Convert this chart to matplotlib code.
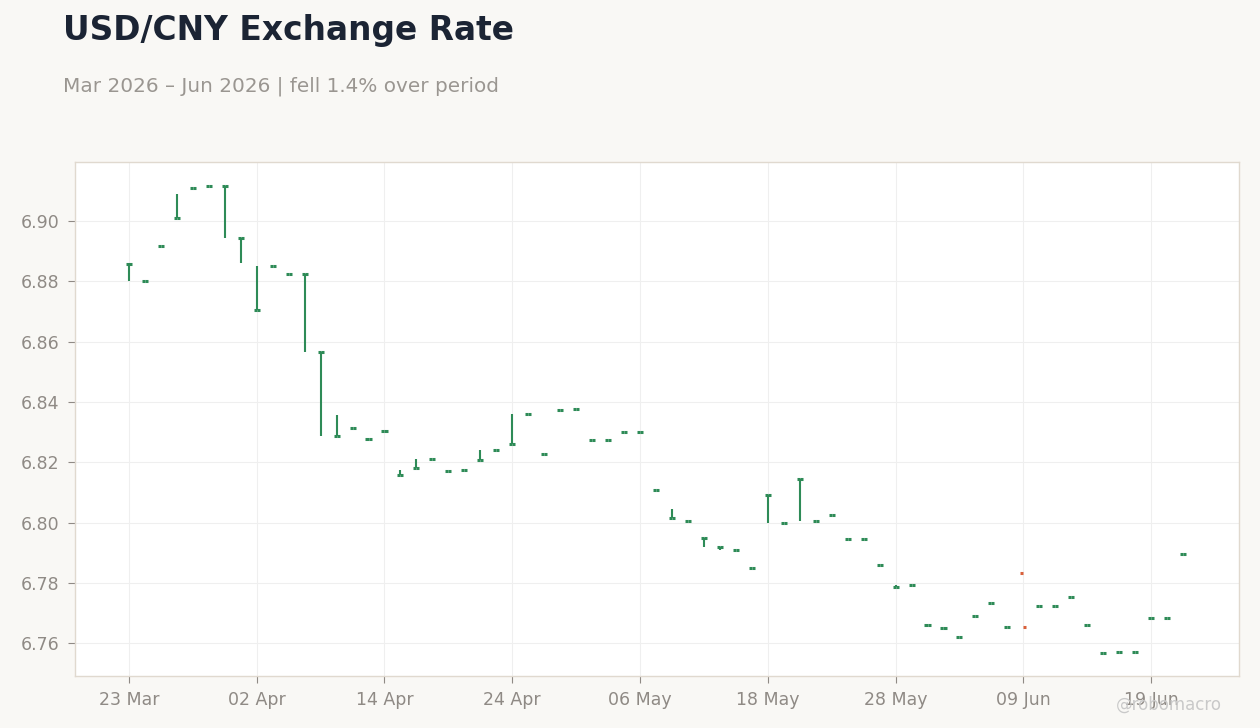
import numpy as np
import pandas as pd
import matplotlib
matplotlib.use("Agg")
import matplotlib.pyplot as plt

# data: business days
dates = pd.bdate_range("2026-03-23", periods=67)

close = np.array([
    6.8857, 6.8801, 6.8917, 6.9010, 6.9109, 6.9117, 6.9117, 6.8945, 6.8705, 6.8851,
    6.8824, 6.8824, 6.8566, 6.8287, 6.8314, 6.8278, 6.8304, 6.8157, 6.8181, 6.8212,
    6.8172, 6.8175, 6.8208, 6.8241, 6.8261, 6.8361, 6.8228, 6.8374, 6.8377, 6.8274,
    6.8274, 6.8301, 6.8301, 6.8109, 6.8015, 6.8006, 6.7949, 6.7920, 6.7910, 6.7850,
    6.8092, 6.8000, 6.8145, 6.8006, 6.8026, 6.7946, 6.7946, 6.7860, 6.7787, 6.7793,
    6.7660, 6.7651, 6.7621, 6.7691, 6.7734, 6.7654, 6.7654, 6.7724, 6.7724, 6.7754,
    6.7661, 6.7568, 6.7571, 6.7571, 6.7684, 6.7684, 6.7896,
])
open_ = close.copy()
open_[56] = 6.7833

high = close.copy()
low = close.copy()
# days with a visible high-low range
ranges = {
    0: (6.8860, 6.8802), 3: (6.9090, 6.9010), 6: (6.9117, 6.8945),
    7: (6.8945, 6.8862), 8: (6.8851, 6.8705), 11: (6.8824, 6.8566),
    12: (6.8566, 6.8288), 13: (6.8356, 6.8287), 17: (6.8174, 6.8157),
    18: (6.8210, 6.8181), 22: (6.8240, 6.8208), 24: (6.8360, 6.8261),
    34: (6.8045, 6.8015), 36: (6.7949, 6.7920), 37: (6.7920, 6.7910),
    40: (6.8092, 6.8000), 42: (6.8145, 6.8006), 48: (6.7792, 6.7787),
    56: (np.nan, np.nan),
}
for k, (h, l) in ranges.items():
    high[k] = h
    low[k] = l

up_color = "#2e8b57"
down_color = "#d9603b"
bg = "#f9f8f5"

fig = plt.figure(figsize=(12.6, 7.28), dpi=100, facecolor=bg)
ax = fig.add_axes([0.0595, 0.0714, 0.9238, 0.7061])
ax.set_facecolor("white")

x = np.arange(len(dates))
up = close >= open_
colors = np.where(up, up_color, down_color)
tw = 0.19

ok = ~np.isnan(high)
ax.vlines(x[ok], low[ok], high[ok], colors=colors[ok], lw=1.5, zorder=3)
ax.hlines(open_, x - tw, x, colors=colors, lw=2.2, capstyle="butt", zorder=4)
ax.hlines(close, x, x + tw, colors=colors, lw=2.2, capstyle="butt", zorder=4)

ax.set_xlim(-3.38, 69.5)
ax.set_ylim(6.7491, 6.9196)
ticks = x[::8]
ax.set_xticks(ticks)
ax.set_xticklabels([d.strftime("%d %b") for d in dates[ticks]])
ax.set_yticks(np.arange(6.76, 6.901, 0.02))
ax.yaxis.set_major_formatter(matplotlib.ticker.FormatStrFormatter("%.2f"))

ax.grid(True, color="#efefef", lw=0.8, zorder=0)
ax.set_axisbelow(True)
for s in ax.spines.values():
    s.set_color("#e0d9cf")
    s.set_linewidth(1.0)
ax.tick_params(axis="both", colors="#8f8a85", labelcolor="#8f8a85",
               labelsize=12.5, length=5, width=0.8, pad=6)

fig.text(0.05, 0.945, "USD/CNY Exchange Rate", fontsize=23.7, fontweight="bold",
         color="#1b2434", va="baseline")
fig.text(0.05, 0.874, "Mar 2026 – Jun 2026 | fell 1.4% over period", fontsize=14.4,
         color="#9a9691", va="baseline")
fig.text(0.97, 0.0316, "@robomacro", fontsize=12, color="#c9c9c9",
         ha="right", va="center")

plt.savefig("out.png", dpi=100, facecolor=bg)
